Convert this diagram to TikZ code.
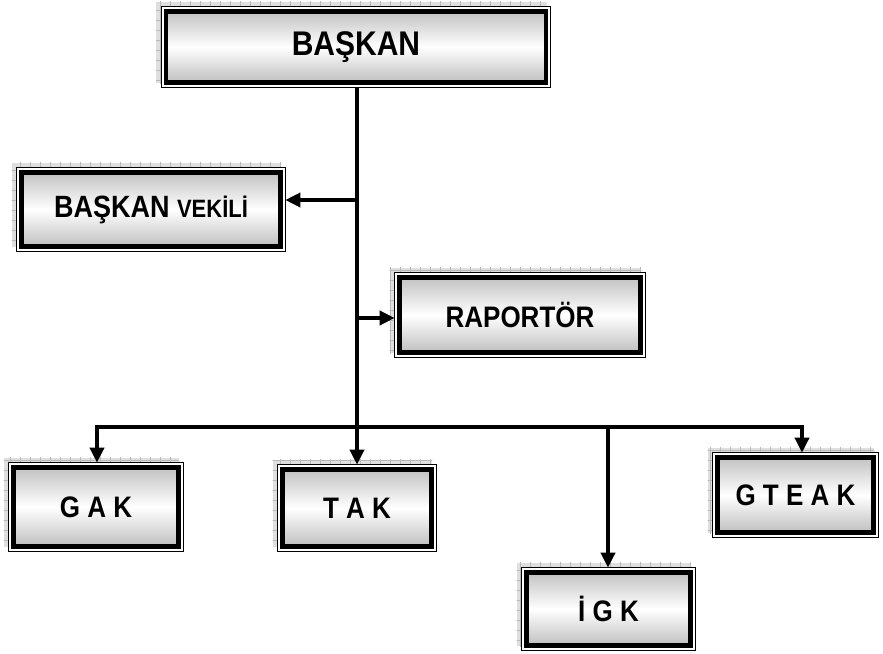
\documentclass[tikz,border=0pt]{standalone}
\usepackage{fontspec}
\setmainfont{Liberation Sans}
\usetikzlibrary{arrows.meta,backgrounds,shadings}
\newcommand\tall[1]{\scalebox{1}[1.14]{#1}}
\tikzset{
  obox/.style={rectangle, draw=black, line width=4.5pt, inner sep=0pt, outer sep=4.8pt,
    top color=gray!48, bottom color=gray!50, middle color=white, text=black,
    font=\fontsize{26}{26}\selectfont\bfseries},
  conn/.style={line width=3.5pt, draw=black},
  tip/.style={-{Triangle[length=15pt,width=14pt]}}
}
\newcommand\orgdeco[1]{%
  \begin{scope}[on background layer]
    \fill[gray!25] ([shift={(-5,-5)}]#1.north west) rectangle ([shift={(-4,-4)}]#1.south east);
    \begin{scope}
      \clip ([shift={(-5,-5)}]#1.north west) rectangle ([shift={(-4,-4)}]#1.south east);
      \draw[gray!55, line width=0.4pt, step=10pt] ([shift={(-15,-15)}]#1.north west) grid ([shift={(10,10)}]#1.south east);
    \end{scope}
    \draw[line width=1pt, fill=white] (#1.north west) rectangle (#1.south east);
  \end{scope}}
\begin{document}
\begin{tikzpicture}[x=1pt,y=-1pt]
\useasboundingbox (0,0) rectangle (883,653);
\node[obox, minimum width=380pt, minimum height=71pt, font=\fontsize{30}{30}\selectfont\bfseries] (baskan) at (356,47) {\tall{BAŞKAN}};
\node[obox, minimum width=259pt, minimum height=74pt] (vekil) at (151,209.5) {\tall{\fontsize{27}{27}\selectfont BAŞKAN \fontsize{22}{22}\selectfont VEKİLİ}};
\node[obox, minimum width=241pt, minimum height=75pt] (rapor) at (520,315) {\tall{RAPORTÖR}};
\node[obox, minimum width=165pt, minimum height=79pt] (gak) at (96,507) {\tall{G A K}};
\node[obox, minimum width=149pt, minimum height=77pt] (tak) at (357,508) {\tall{T A K}};
\node[obox, minimum width=156pt, minimum height=75pt] (gteak) at (795.5,495) {\tall{G T E A K}};
\node[obox, minimum width=164pt, minimum height=73pt] (igk) at (608.5,609) {\tall{İ G K}};
\orgdeco{baskan}\orgdeco{vekil}\orgdeco{rapor}\orgdeco{gak}\orgdeco{tak}\orgdeco{gteak}\orgdeco{igk}
\coordinate (j1) at (357,200);
\coordinate (j2) at (357,318);
\coordinate (j3) at (357,427);
\coordinate (j4) at (802,427);
\coordinate (j5) at (97,427);
\coordinate (j6) at (608,427);
\draw[conn, tip] (tak.north |- baskan.south) -- (tak.north);
\draw[conn, tip] (j1) -- (j1 -| vekil.east);
\draw[conn, tip] (j2) -- (j2 -| rapor.west);
\draw[conn, {Triangle[length=15pt,width=14pt]}-{Triangle[length=15pt,width=14pt]}] (j5 |- gak.north) -- (j5) -- (j4) -- (j4 |- gteak.north);
\draw[conn, tip] (j6) -- (j6 |- igk.north);
\end{tikzpicture}
\end{document}
